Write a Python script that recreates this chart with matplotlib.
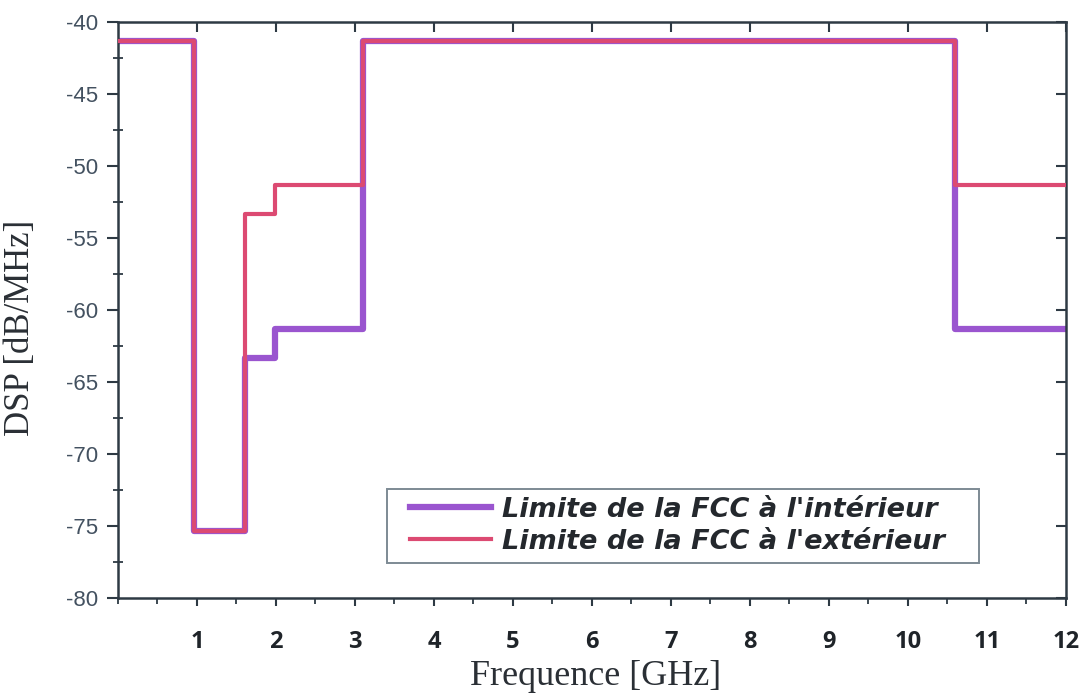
import numpy as np
import matplotlib.pyplot as plt
from matplotlib.patches import Rectangle
from matplotlib.transforms import IdentityTransform
from matplotlib.ticker import MultipleLocator, FixedLocator

# FCC UWB emission masks
freq_edges = [0, 0.96, 1.61, 1.99, 3.1, 10.6, 12]
dsp_interieur = [-41.3, -75.3, -63.3, -61.3, -41.3, -61.3]
dsp_exterieur = [-41.3, -75.3, -53.3, -51.3, -41.3, -51.3]
x_ticks = list(range(1, 13))
y_ticks = list(range(-80, -39, 5))

spine_col = '#2e3a44'

fig = plt.figure(figsize=(10.82, 6.94), dpi=100)
ax = fig.add_axes([0.109, 0.138, 0.876, 0.830])

ax.step(freq_edges, dsp_interieur + [dsp_interieur[-1]], where='post',
        color='#9a55cf', lw=4.5, label="Limite de la FCC à l'intérieur", zorder=2)
ax.step(freq_edges, dsp_exterieur + [dsp_exterieur[-1]], where='post',
        color='#dc4a72', lw=3.0, label="Limite de la FCC à l'extérieur", zorder=3)

ax.set_xlim(0, 12)
ax.set_ylim(-80, -40)

for s in ax.spines.values():
    s.set_color(spine_col)
    s.set_linewidth(1.8)

# x axis: outward ticks at 0.5, integer labels from 1
ax.xaxis.set_major_locator(FixedLocator(x_ticks))
ax.xaxis.set_minor_locator(MultipleLocator(0.5))
ax.set_xticklabels([str(t) for t in x_ticks], fontfamily='Open Sans',
                   fontweight='bold', fontsize=17, color='#1f2429')
ax.tick_params(axis='x', which='major', direction='out', length=6, width=1.5,
               color=spine_col, pad=17)
ax.tick_params(axis='x', which='minor', direction='out', length=4, width=1.3,
               color=spine_col)

# y axis
ax.yaxis.set_major_locator(FixedLocator(y_ticks))
ax.yaxis.set_minor_locator(MultipleLocator(2.5))
ax.set_yticklabels([str(t) for t in y_ticks], fontfamily='Liberation Sans',
                   fontsize=16, color='#435160')
ax.tick_params(axis='y', which='major', direction='out', length=8, width=1.5,
               color=spine_col, pad=6)
ax.tick_params(axis='y', which='minor', direction='inout', length=7, width=1.3,
               color=spine_col)

# inward ticks on the top and right spines
top = ax.secondary_xaxis('top')
top.set_xticks(x_ticks)
top.tick_params(direction='in', length=7, width=1.5, color=spine_col, labeltop=False)
top.spines['top'].set_visible(False)
right = ax.secondary_yaxis('right')
right.set_yticks(y_ticks)
right.tick_params(direction='in', length=7, width=1.5, color=spine_col, labelright=False)
right.spines['right'].set_visible(False)

ax.set_xlabel('Frequence [GHz]', fontfamily='Liberation Serif', fontsize=26,
              color='#2a2f35')
ax.xaxis.set_label_coords(0.504, -0.108)
ax.set_ylabel('DSP [dB/MHz]', fontfamily='Liberation Serif', fontsize=25,
              color='#2a2f35')
ax.yaxis.set_label_coords(-0.085, 0.47)

leg = ax.legend(loc='upper left', bbox_to_anchor=(0.308, 0.176),
                prop={'family': 'DejaVu Sans', 'weight': 'bold',
                      'style': 'oblique', 'size': 19.5},
                frameon=False, handlelength=3.0, borderpad=0,
                labelspacing=0.22, handletextpad=0.4, borderaxespad=0)
leg.set_zorder(6)
for t in leg.get_texts():
    t.set_color('#24282d')

# legend box with wider side padding, as in the original figure
fig.canvas.draw()
bb = leg.get_window_extent()
box = Rectangle((bb.x0 - 23, bb.y0 - 8), bb.width + 23 + 34, bb.height + 16,
                transform=IdentityTransform(), facecolor='white',
                edgecolor='#7d8a94', linewidth=1.4, zorder=5, clip_on=False)
ax.add_artist(box)

fig.savefig('out.png', dpi=100)
